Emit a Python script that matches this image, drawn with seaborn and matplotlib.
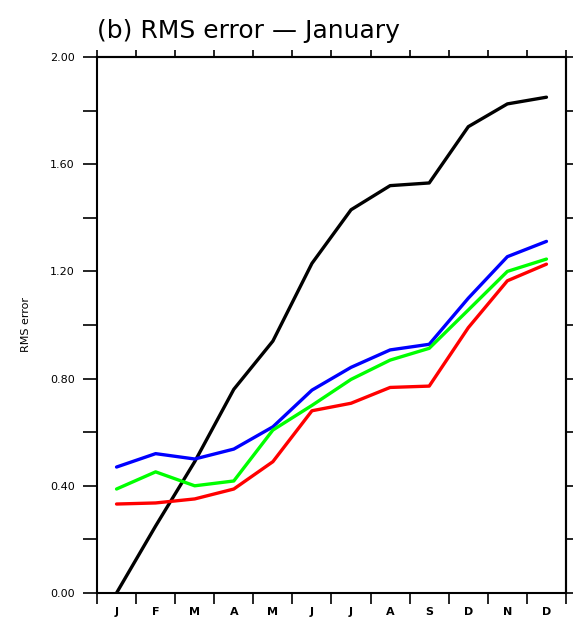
import numpy as np
import pandas as pd
import matplotlib
matplotlib.use("Agg")
import matplotlib.pyplot as plt
import seaborn as sns

months = ["J", "F", "M", "A", "M", "J", "J", "A", "S", "D", "N", "D"]
black_vals = [0.00, 0.25, 0.49, 0.76, 0.94, 1.23, 1.43, 1.52, 1.53, 1.74, 1.825, 1.85]
blue_vals = [0.47, 0.52, 0.50, 0.537, 0.62, 0.757, 0.842, 0.907, 0.928, 1.10, 1.255, 1.312]
green_vals = [0.388, 0.452, 0.40, 0.418, 0.608, 0.70, 0.797, 0.869, 0.913, 1.056, 1.20, 1.246]
red_vals = [0.332, 0.336, 0.351, 0.388, 0.49, 0.68, 0.708, 0.767, 0.772, 0.99, 1.165, 1.227]
series_names = ["black", "blue", "green", "red"]
series_colors = {"black": "#000000", "blue": "#0000ff", "green": "#00ff00", "red": "#ff0000"}

rows = []
for name, vals in zip(series_names, [black_vals, blue_vals, green_vals, red_vals]):
    for i, v in enumerate(vals):
        rows.append({"pos": i + 0.5, "value": v, "series": name})
df = pd.DataFrame(rows)

sns.set_style("ticks")
plt.rcParams["font.family"] = ["DejaVu Sans"]
plt.rcParams["text.color"] = "black"
plt.rcParams["axes.labelcolor"] = "black"
plt.rcParams["xtick.color"] = "black"
plt.rcParams["ytick.color"] = "black"

fig = plt.figure(figsize=(5.73, 6.24), dpi=100)
ax = fig.add_axes([97 / 573, 31 / 624, 469 / 573, 536 / 624])

sns.lineplot(data=df, x="pos", y="value", hue="series", hue_order=series_names,
             palette=series_colors, linewidth=2.4, legend=False, ax=ax)

ax.set_xlim(0, 12)
ax.set_ylim(0, 2.0)
ax.set_xticks(np.arange(0, 13))
ax.set_xticklabels([])
ax.set_xticks(np.arange(12) + 0.5, minor=True)
ax.set_xticklabels(months, minor=True, fontsize=8, fontweight="bold")
ax.tick_params(axis="x", which="minor", length=0, pad=10)
ax.tick_params(axis="x", which="major", direction="out", length=8, width=1.2,
               top=False, bottom=True)
ax.set_yticks(np.arange(0, 2.01, 0.4))
ax.set_yticklabels(["%.2f" % v for v in np.arange(0, 2.01, 0.4)], fontsize=8)
ax.set_yticks(np.arange(0.2, 2.0, 0.4), minor=True)
ax.tick_params(axis="y", which="both", direction="out", length=10, width=1.2,
               left=True, right=False, pad=6)

# shorter outward ticks on the top and right frame
top = ax.secondary_xaxis("top")
top.set_xticks(np.arange(0, 13))
top.set_xticklabels([])
top.tick_params(direction="out", length=5, width=1.2)
right = ax.secondary_yaxis("right")
right.set_yticks(np.arange(0, 2.01, 0.2))
right.set_yticklabels([])
right.tick_params(direction="out", length=5, width=1.2)
for a in (top, right):
    for s in a.spines.values():
        s.set_linewidth(1.5)

for s in ax.spines.values():
    s.set_linewidth(1.5)
    s.set_color("black")

ax.set_xlabel("")
ax.set_ylabel("RMS error", fontsize=8, labelpad=14)
fig.text(97 / 573, 1 - 38 / 624, "(b) RMS error \u2014 January", fontsize=18,
         ha="left", va="baseline")

fig.savefig("out.png", dpi=100)
